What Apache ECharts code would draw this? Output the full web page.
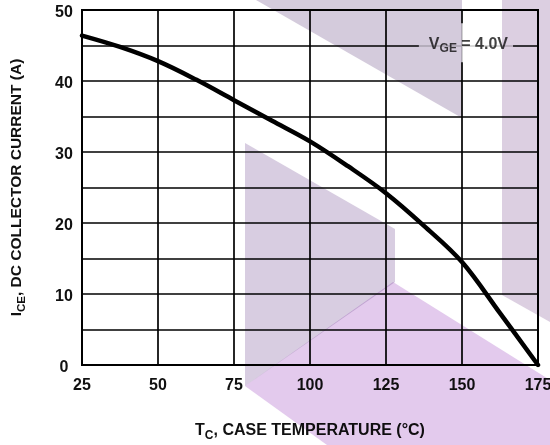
<!DOCTYPE html>
<html>
<head>
<meta charset="utf-8">
<style>
  html, body { margin: 0; padding: 0; background: #fff; }
  #chart { width: 550px; height: 445px; }
</style>
<script src="https://cdn.jsdelivr.net/npm/echarts@6/dist/echarts.min.js"></script>
</head>
<body>
<div id="chart"></div>
<script>
// Case temperature (°C) and maximum DC collector current (A)
const caseTemp = [25, 37.5, 50, 62.5, 75, 87.5, 100, 112.5, 125, 137.5, 150, 162.5, 175];
const collectorCurrent = [46.4, 44.8, 42.8, 40.2, 37.3, 34.4, 31.5, 28.0, 24.2, 19.6, 14.5, 7.3, 0];

// Condition label, placed in data space
const conditionPoint = [151.3, 45.4];
const conditionText = '{v|V}{s|GE}{v| = 4.0V}';

const FONT = 'Liberation Sans, Arial, sans-serif';
const INK = '#111';

const chart = echarts.init(document.getElementById('chart'), null, { renderer: 'canvas' });

// Decorative background panels, multiplied over the plot
const panels = [
  { pts: [[256, 0], [462, 0], [462, 118]], color: '#d4cbdc' },
  { pts: [[502, 0], [550, 0], [550, 322], [502, 295]], color: '#dccfe1' },
  { pts: [[245, 143], [395, 229], [395, 282], [245, 386]], color: '#d8cde1' },
  { pts: [[245, 386], [393, 282], [550, 380], [550, 445], [327, 445]], color: '#e3caed' }
];

chart.setOption({
  animation: false,
  backgroundColor: '#fff',
  grid: {
    left: 82, right: 12, top: 10, bottom: 80,
    outerBoundsMode: 'none',
    containLabel: false,
    show: true, borderColor: '#000', borderWidth: 2
  },
  xAxis: {
    type: 'value',
    min: 25, max: 175, interval: 25,
    axisLine: { show: true, lineStyle: { color: '#000', width: 2 } },
    axisTick: { show: false },
    splitLine: { show: true, lineStyle: { color: '#000', width: 1.7 } },
    axisLabel: { color: INK, fontFamily: FONT, fontWeight: 'bold', fontSize: 16, margin: 13 },
    name: '{t|T}{s|C}{t|, CASE TEMPERATURE (°C)}',
    nameLocation: 'middle',
    nameGap: 58,
    nameTextStyle: {
      rich: {
        t: { color: INK, fontFamily: FONT, fontWeight: 'bold', fontSize: 16, verticalAlign: 'bottom', padding: [0, 0, 3, 0] },
        s: { color: INK, fontFamily: FONT, fontWeight: 'bold', fontSize: 12, verticalAlign: 'bottom' }
      }
    }
  },
  yAxis: {
    type: 'value',
    min: 0, max: 50, interval: 5,
    axisLine: { show: true, lineStyle: { color: '#000', width: 2 } },
    axisTick: { show: false },
    splitLine: { show: true, lineStyle: { color: '#000', width: 1.7 } },
    axisLabel: {
      color: INK, fontFamily: FONT, fontWeight: 'bold', fontSize: 16, margin: 18,
      align: 'center', verticalAlign: 'top', lineHeight: 5,
      formatter: v => (v % 10 === 0 ? String(v) : '')
    },
    name: '{t|I}{s|CE}{t|, DC COLLECTOR CURRENT (A)}',
    nameLocation: 'middle',
    nameGap: 54,
    nameTextStyle: {
      rich: {
        t: { color: INK, fontFamily: FONT, fontWeight: 'bold', fontSize: 15.5, verticalAlign: 'bottom', padding: [0, 0, 3, 0] },
        s: { color: INK, fontFamily: FONT, fontWeight: 'bold', fontSize: 11.5, verticalAlign: 'bottom' }
      }
    }
  },
  series: [
    {
      type: 'line',
      data: caseTemp.map((t, i) => [t, collectorCurrent[i]]),
      smooth: 0.35,
      symbol: 'none',
      lineStyle: { color: '#000', width: 4.5, cap: 'round' },
      z: 3
    },
    {
      type: 'scatter',
      data: [conditionPoint],
      symbolSize: 1,
      itemStyle: { color: 'rgba(0,0,0,0)' },
      label: {
        show: true,
        position: 'inside',
        formatter: conditionText,
        backgroundColor: '#fff',
        padding: [13, 5, 7, 10],
        rich: {
          v: { color: INK, fontFamily: FONT, fontWeight: 'bold', fontSize: 16, verticalAlign: 'bottom', padding: [0, 0, 3, 0] },
          s: { color: INK, fontFamily: FONT, fontWeight: 'bold', fontSize: 12, verticalAlign: 'bottom' }
        }
      },
      z: 4
    }
  ],
  graphic: panels.map(p => ({
    type: 'polygon',
    shape: { points: p.pts },
    style: { fill: p.color, blend: 'multiply' },
    silent: true,
    z: 100
  }))
});
</script>
</body>
</html>
